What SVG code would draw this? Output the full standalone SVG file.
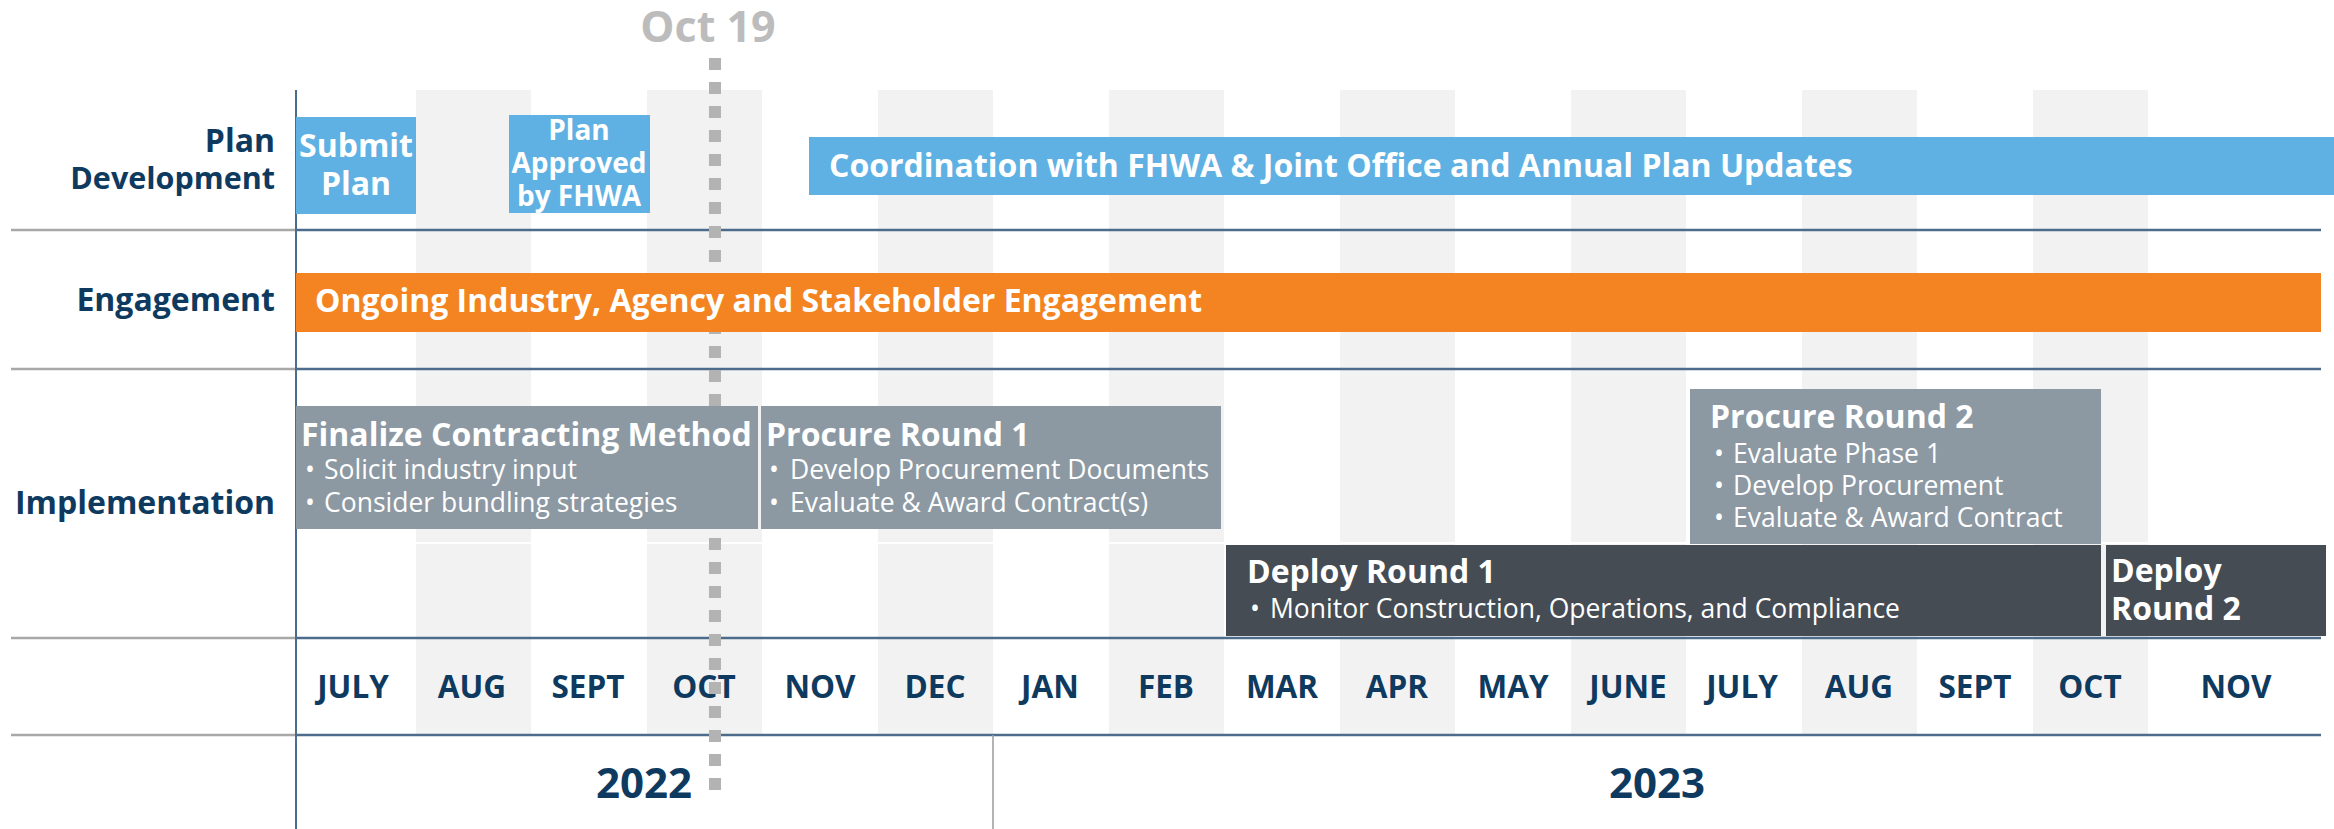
<svg xmlns="http://www.w3.org/2000/svg" width="2334" height="829" viewBox="0 0 2334 829">
<style>
text{font-family:"Open Sans","Noto Sans","Liberation Sans",sans-serif}
.lbl{font-weight:700;font-size:32px;fill:#0f3a60;text-anchor:end}
.mon{font-weight:700;font-size:31.5px;fill:#0f3a60;text-anchor:middle}
.yr{font-weight:700;font-size:42px;fill:#0f3a60;text-anchor:middle}
.hd{font-weight:700;font-size:32px;fill:#ffffff}
.sm{font-weight:700;font-size:28px;fill:#ffffff;text-anchor:middle}
.bt{font-weight:400;font-size:26.5px;fill:#ffffff}
.bar{font-weight:700;font-size:32px;fill:#ffffff}
.stripe{fill:#f2f2f2}
.sepL{stroke:#a8a8a8;stroke-width:2.5}
.sepR{stroke:#4d6c8c;stroke-width:2.5}
.blue{fill:#5fb1e3}
.orange{fill:#f38421}
.grey{fill:#8c99a3}
.dark{fill:#454c54}
</style>
<rect width="2334" height="829" fill="#ffffff"/>
<g id="stripes">
<rect class="stripe" x="416" y="90" width="115" height="645"/>
<rect class="stripe" x="647" y="90" width="115" height="645"/>
<rect class="stripe" x="878" y="90" width="115" height="645"/>
<rect class="stripe" x="1109" y="90" width="115" height="645"/>
<rect class="stripe" x="1340" y="90" width="115" height="645"/>
<rect class="stripe" x="1571" y="90" width="115" height="645"/>
<rect class="stripe" x="1802" y="90" width="115" height="645"/>
<rect class="stripe" x="2033" y="90" width="115" height="645"/>
<rect x="296" y="542" width="2030" height="2" fill="#ffffff"/>
</g>
<g id="grid">
<line class="sepL" x1="11" y1="230" x2="296" y2="230"/>
<line class="sepR" x1="296" y1="230" x2="2321" y2="230"/>
<line class="sepL" x1="11" y1="369" x2="296" y2="369"/>
<line class="sepR" x1="296" y1="369" x2="2321" y2="369"/>
<line class="sepL" x1="11" y1="638" x2="296" y2="638"/>
<line class="sepR" x1="296" y1="638" x2="2321" y2="638"/>
<line class="sepL" x1="11" y1="735" x2="296" y2="735"/>
<line class="sepR" x1="296" y1="735" x2="2321" y2="735"/>
<line x1="296" y1="90" x2="296" y2="829" stroke="#4d6c8c" stroke-width="2"/>
<line x1="993" y1="735" x2="993" y2="829" stroke="#9a9a9a" stroke-width="1.5"/>
</g>
<g id="row-labels">
<text class="lbl" x="275" y="152">Plan</text>
<text class="lbl" x="275" y="189" style="font-size:30.5px">Development</text>
<text class="lbl" x="275" y="311">Engagement</text>
<text class="lbl" x="275" y="514">Implementation</text>
</g>
<g id="months">
<text class="mon" x="353" y="698">JULY</text>
<text class="mon" x="472" y="698">AUG</text>
<text class="mon" x="588" y="698">SEPT</text>
<text class="mon" x="704" y="698">OCT</text>
<text class="mon" x="820" y="698">NOV</text>
<text class="mon" x="935" y="698">DEC</text>
<text class="mon" x="1050" y="698">JAN</text>
<text class="mon" x="1166" y="698">FEB</text>
<text class="mon" x="1282" y="698">MAR</text>
<text class="mon" x="1397" y="698">APR</text>
<text class="mon" x="1513" y="698">MAY</text>
<text class="mon" x="1628" y="698">JUNE</text>
<text class="mon" x="1742" y="698">JULY</text>
<text class="mon" x="1859" y="698">AUG</text>
<text class="mon" x="1975" y="698">SEPT</text>
<text class="mon" x="2090" y="698">OCT</text>
<text class="mon" x="2236" y="698">NOV</text>
</g>
<g id="years">
<text class="yr" x="644" y="798">2022</text>
<text class="yr" x="1657" y="798">2023</text>
</g>
<g id="connectors">
<text x="708" y="42" font-weight="700" font-size="43" fill="#bcbcbc" text-anchor="middle">Oct 19</text>
<line x1="715" y1="58" x2="715" y2="790" stroke="#b3b3b3" stroke-width="12" stroke-dasharray="12 12"/>
</g>
<g id="submit-plan">
<rect class="blue" x="296" y="117" width="120" height="97"/>
<text class="bar" x="356" y="157" text-anchor="middle">Submit</text>
<text class="bar" x="356" y="195" text-anchor="middle">Plan</text>
</g>
<g id="plan-approved">
<rect class="blue" x="509" y="115" width="141" height="98"/>
<text class="sm" x="579" y="140">Plan</text>
<text class="sm" x="579" y="173">Approved</text>
<text class="sm" x="579" y="206">by FHWA</text>
</g>
<g id="coordination">
<rect class="blue" x="809" y="137" width="1525" height="58"/>
<text class="bar" x="829" y="177">Coordination with FHWA &amp; Joint Office and Annual Plan Updates</text>
</g>
<g id="engagement">
<rect class="orange" x="296" y="273" width="2025" height="59"/>
<text class="bar" x="315" y="312">Ongoing Industry, Agency and Stakeholder Engagement</text>
</g>
<g id="finalize-contracting">
<rect class="grey" x="296" y="406" width="462" height="123"/>
<text class="hd" x="301" y="446">Finalize Contracting Method</text>
<text class="bt" y="479"><tspan x="305">•</tspan><tspan x="324">Solicit industry input</tspan></text>
<text class="bt" y="512"><tspan x="305">•</tspan><tspan x="324">Consider bundling strategies</tspan></text>
</g>
<g id="procure-round-1">
<rect class="grey" x="761" y="406" width="460" height="123"/>
<text class="hd" x="766" y="446">Procure Round 1</text>
<text class="bt" y="479"><tspan x="769">•</tspan><tspan x="790">Develop Procurement Documents</tspan></text>
<text class="bt" y="512"><tspan x="769">•</tspan><tspan x="790">Evaluate &amp; Award Contract(s)</tspan></text>
</g>
<g id="procure-round-2">
<rect class="grey" x="1690" y="389" width="411" height="155"/>
<text class="hd" x="1710" y="428">Procure Round 2</text>
<text class="bt" y="463"><tspan x="1714">•</tspan><tspan x="1733">Evaluate Phase 1</tspan></text>
<text class="bt" y="495"><tspan x="1714">•</tspan><tspan x="1733">Develop Procurement</tspan></text>
<text class="bt" y="527"><tspan x="1714">•</tspan><tspan x="1733">Evaluate &amp; Award Contract</tspan></text>
</g>
<g id="deploy-round-1">
<rect class="dark" x="1226" y="545" width="875" height="91"/>
<text class="hd" x="1247" y="583">Deploy Round 1</text>
<text class="bt" y="618"><tspan x="1250">•</tspan><tspan x="1270">Monitor Construction, Operations, and Compliance</tspan></text>
</g>
<g id="deploy-round-2">
<rect class="dark" x="2106" y="545" width="220" height="91"/>
<text class="hd" x="2111" y="582">Deploy</text>
<text class="hd" x="2111" y="620">Round 2</text>
</g>
</svg>
